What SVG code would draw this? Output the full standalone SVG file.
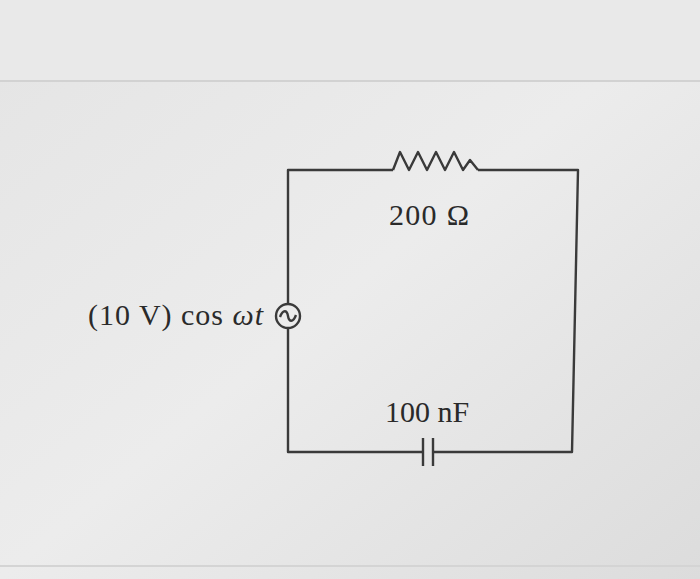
<svg xmlns="http://www.w3.org/2000/svg" width="700" height="579" viewBox="0 0 700 579">
<defs>
<linearGradient id="bg" x1="0" y1="0" x2="1" y2="1">
<stop offset="0" stop-color="#e4e4e4"/><stop offset="0.5" stop-color="#ececec"/><stop offset="1" stop-color="#dcdcdc"/>
</linearGradient>
</defs>
<style>
.w{fill:none;stroke:#3a3a3a;stroke-width:2.4;stroke-linejoin:round}
.t{font-family:"Liberation Serif",serif;font-size:30px;fill:#2a2a2a}
</style>
<rect width="700" height="579" fill="url(#bg)"/>
<rect width="700" height="80" fill="#e9e9e9"/>
<line x1="0" y1="81" x2="700" y2="81" stroke="#d2d2d2" stroke-width="2"/>
<line x1="0" y1="566" x2="700" y2="566" stroke="#d4d4d4" stroke-width="2"/>
<g id="connectors">
<path class="w" d="M288,304 V170 H393 M478,170 H578 L572,452 H433 M423,452 H288 V328"/>
</g>
<g id="resistor">
<path class="w" d="M393,170 L400,152 L409,170 L418,152 L427,170 L436,152 L445,170 L454,152 L463,170 L470,160 L478,170"/>
<text class="t" x="429" y="225" text-anchor="middle" textLength="80">200 Ω</text>
</g>
<g id="source">
<circle class="w" cx="288" cy="316" r="12"/>
<path class="w" d="M280,317 C283,309 287,310 288,316 C289,322 293,323 296,315"/>
<text class="t" x="88" y="325" textLength="175">(10 V) cos <tspan font-style="italic">ωt</tspan></text>
</g>
<g id="capacitor">
<line class="w" x1="423" y1="438" x2="423" y2="466"/>
<line class="w" x1="433" y1="438" x2="433" y2="466"/>
<text class="t" x="427" y="422" text-anchor="middle">100 nF</text>
</g>
</svg>
